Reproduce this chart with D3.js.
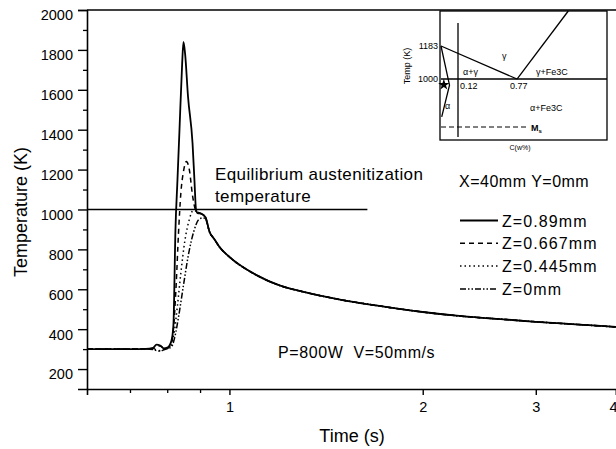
<!DOCTYPE html>
<html>
<head>
<meta charset="utf-8">
<script src="https://cdn.jsdelivr.net/npm/d3@7"></script>
<style>
  html, body { margin: 0; padding: 0; background: #fff; }
  svg { display: block; font-family: Arial, "Liberation Sans", Helvetica, sans-serif; }
  text { fill: #000; }
</style>
</head>
<body>
<svg id="chart" width="616" height="449"></svg>
<script>
// ---- Thermal cycle data: time (s), temperature (K) ----
const timeTicks = [1, 2, 3, 4];
const timeMinorTicks = [0.7, 0.8, 0.9];
const tempTicks = [200, 400, 600, 800, 1000, 1200, 1400, 1600, 1800, 2000];
const tempMinorTicks = [300, 500, 700, 900, 1100, 1300, 1500, 1700, 1900];

// Heating part of each depth (differs per depth)
const heatZ089 = [[0.6, 300], [0.7, 300], [0.74, 301], [0.76, 306], [0.77, 322], [0.78, 318], [0.79, 304], [0.80, 307],
  [0.812, 340], [0.818, 420], [0.824, 900], [0.830, 1150], [0.836, 1400], [0.844, 1730], [0.848, 1840],
  [0.853, 1780], [0.862, 1565], [0.876, 1333], [0.882, 1148], [0.887, 1000], [0.892, 982], [0.905, 978], [0.918, 960]];
const heatZ0667 = [[0.6, 300], [0.7, 300], [0.74, 300], [0.76, 302], [0.77, 312], [0.78, 316], [0.79, 305], [0.80, 303],
  [0.812, 330], [0.818, 400], [0.826, 620], [0.833, 880], [0.840, 1080], [0.848, 1190], [0.857, 1240],
  [0.866, 1200], [0.876, 1070], [0.885, 1000], [0.894, 985], [0.905, 978], [0.918, 960]];
const heatZ0445 = [[0.6, 300], [0.7, 300], [0.74, 300], [0.76, 300], [0.77, 296], [0.78, 292], [0.79, 299], [0.80, 305],
  [0.812, 320], [0.820, 380], [0.830, 520], [0.840, 680], [0.852, 840], [0.866, 950], [0.878, 995],
  [0.890, 990], [0.905, 976], [0.918, 958]];
const heatZ0 = [[0.6, 300], [0.7, 300], [0.74, 300], [0.76, 298], [0.77, 292], [0.78, 290], [0.79, 296], [0.80, 302],
  [0.812, 310], [0.822, 360], [0.834, 470], [0.848, 620], [0.864, 780], [0.880, 890], [0.896, 950],
  [0.910, 958], [0.920, 945]];
// Common cooling tail shared by all depths
const coolingTail = [[0.931, 888], [0.947, 852], [0.965, 812], [1.0, 762], [1.1, 672], [1.2, 618], [1.3, 588],
  [1.5, 546], [1.7, 518], [2.0, 486], [2.3, 465], [2.7, 448], [3.0, 437], [3.5, 423], [4.0, 411]];

const seriesNames = ["Z=0.89mm", "Z=0.667mm", "Z=0.445mm", "Z=0mm"];
const seriesHeating = [heatZ089, heatZ0667, heatZ0445, heatZ0];
const seriesDash = [null, "5,4", "1.5,3", "6,2,1.5,2,1.5,2"];
const seriesWidth = [1.8, 1.5, 1.5, 1.5];

const austenitizationTemp = 1000;
const austenitizationEnd = 1.64;

// ---- Inset Fe-C diagram data: carbon (wt%), temperature (K) ----
const insetCarbonDomain = [0, 0.12, 0.77, 1.7];
const insetTempDomain = [662, 1377];
const insetA3 = [[0, 1183], [0.77, 1000]];
const insetAcm = [[0.77, 1000], [1.3, 1377]];
const insetA1 = [[0, 1000], [1.7, 1000]];
const insetComposition = [[0.12, 1310], [0.12, 678]];
const insetAlpha = [[0, 1183], [0.06, 966], [0.005, 790]];
const insetMs = [[0, 734], [0.88, 734]];
const insetMarker = [0.02, 968];

const svg = d3.select("#chart");

// Main scales
const x = d3.scaleLog().domain([0.6, 4.0]).range([87, 616]);
const y = d3.scaleLinear().domain([100, 2000]).range([389, 10]);

// Frame (top edge)
svg.append("line").attr("x1", x(0.6)).attr("x2", 616).attr("y1", y(2000)).attr("y2", y(2000))
  .attr("stroke", "#000").attr("stroke-width", 1.6);

// Y axis
const yAxis = svg.append("g").attr("transform", `translate(${x(0.6)},0)`)
  .call(d3.axisLeft(y).tickValues(tempTicks).tickSize(9).tickPadding(5).tickFormat(d3.format("d")));
yAxis.select(".domain").attr("stroke-width", 1.6);
yAxis.selectAll(".tick line").attr("stroke-width", 1.4);
yAxis.selectAll("text").attr("font-size", 14.5).attr("dy", "0.68em").attr("font-family", "Arial, Liberation Sans, sans-serif");
const yMinor = svg.append("g").attr("transform", `translate(${x(0.6)},0)`)
  .call(d3.axisLeft(y).tickValues(tempMinorTicks).tickSize(4).tickFormat(""));
yMinor.select(".domain").remove();
yMinor.selectAll(".tick line").attr("stroke-width", 1.3);

// X axis
const xAxis = svg.append("g").attr("transform", `translate(0,${y(100)})`)
  .call(d3.axisBottom(x).tickValues(timeTicks).tickSize(6).tickPadding(7).tickFormat(d3.format("d")));
xAxis.select(".domain").attr("stroke-width", 1.6);
xAxis.selectAll(".tick line").attr("stroke-width", 1.4);
xAxis.selectAll("text").attr("font-size", 14.5).attr("font-family", "Arial, Liberation Sans, sans-serif");
// keep the last label inside the right edge
xAxis.selectAll(".tick text").filter(d => d === 4).attr("text-anchor", "end").attr("dx", 1);
const xMinor = svg.append("g").attr("transform", `translate(0,${y(100)})`)
  .call(d3.axisBottom(x).tickValues(timeMinorTicks).tickSize(4).tickFormat(""));
xMinor.select(".domain").remove();
xMinor.selectAll(".tick line").attr("stroke-width", 1.3);

// Axis titles
svg.append("text").attr("x", 352).attr("y", 442).attr("text-anchor", "middle")
  .attr("font-size", 18).text("Time (s)");
svg.append("text").attr("transform", "translate(27,212) rotate(-90)").attr("text-anchor", "middle")
  .attr("font-size", 18).text("Temperature (K)");

// Equilibrium austenitization temperature line
svg.append("line").attr("x1", x(0.6)).attr("x2", x(austenitizationEnd))
  .attr("y1", y(austenitizationTemp)).attr("y2", y(austenitizationTemp))
  .attr("stroke", "#000").attr("stroke-width", 1.6);
svg.append("text").attr("x", 215).attr("y", 180).attr("font-size", 17).attr("letter-spacing", 0.4)
  .text("Equilibrium austenitization");
svg.append("text").attr("x", 215).attr("y", 202).attr("font-size", 17).attr("letter-spacing", 0.4)
  .text("temperature");

// Curves
const line = d3.line().x(d => x(d[0])).y(d => y(d[1])).curve(d3.curveMonotoneX);
seriesHeating.forEach((heat, i) => {
  svg.append("path").datum(heat.concat(coolingTail))
    .attr("d", line).attr("fill", "none").attr("stroke", "#000")
    .attr("stroke-width", seriesWidth[i])
    .attr("stroke-dasharray", seriesDash[i])
    .attr("stroke-linejoin", "round");
});

// Legend
const legend = svg.append("g").attr("font-size", 16).attr("letter-spacing", 1.1);
legend.append("text").attr("x", 459).attr("y", 186.5).attr("letter-spacing", 0.5).text("X=40mm Y=0mm");
seriesNames.forEach((name, i) => {
  const by = 226.5 + i * 22.8;
  legend.append("line").attr("x1", 460).attr("x2", 498).attr("y1", by - 6).attr("y2", by - 6)
    .attr("stroke", "#000").attr("stroke-width", seriesWidth[i]).attr("stroke-dasharray", seriesDash[i]);
  legend.append("text").attr("x", 502).attr("y", by).text(name);
});

// Process parameters
svg.append("text").attr("x", 278).attr("y", 358).attr("font-size", 16).attr("letter-spacing", 0.6)
  .attr("xml:space", "preserve").style("white-space", "pre").text("P=800W  V=50mm/s");

// ---- Inset Fe-C phase diagram ----
const ix = d3.scaleLinear().domain(insetCarbonDomain).range([441, 458, 517, 607]);
const iy = d3.scaleLinear().domain(insetTempDomain).range([140, 11]);
const inset = svg.append("g");
inset.append("rect").attr("x", 440).attr("y", iy(1377)).attr("width", ix(1.7) - 440)
  .attr("height", iy(662) - iy(1377)).attr("fill", "#fff").attr("stroke", "#000").attr("stroke-width", 1.3);
const iline = d3.line().x(d => ix(d[0])).y(d => iy(d[1]));
[insetA3, insetAcm, insetA1, insetComposition, insetAlpha].forEach(seg => {
  inset.append("path").datum(seg).attr("d", iline).attr("fill", "none")
    .attr("stroke", "#000").attr("stroke-width", 1.3);
});
inset.append("path").datum(insetMs).attr("d", iline).attr("fill", "none")
  .attr("stroke", "#000").attr("stroke-width", 1).attr("stroke-dasharray", "5,3");
inset.append("path").attr("d", d3.symbol(d3.symbolStar, 40)())
  .attr("transform", `translate(${ix(insetMarker[0])},${iy(insetMarker[1])})`).attr("fill", "#000");

const itext = (tx, ty, s, anchor) => inset.append("text").attr("x", tx).attr("y", ty)
  .attr("font-size", 9).attr("text-anchor", anchor || "start").text(s);
itext(438, iy(1183) + 3, "1183", "end");
itext(438, iy(1000) + 3, "1000", "end");
itext(463, 75, "α+γ");
itext(502, 59, "γ");
itext(536, 75, "γ+Fe3C");
itext(460, 89, "0.12");
itext(510, 89, "0.77");
itext(445, 109, "α");
itext(530, 111, "α+Fe3C");
const ms = itext(531, iy(734) + 3.5, "M");
ms.attr("font-weight", "bold");
ms.append("tspan").attr("font-size", 6).attr("dy", 2).text("s");
itext(520, 150, "C(w%)", "middle").attr("font-size", 7);
inset.append("text").attr("transform", "translate(410,66) rotate(-90)").attr("text-anchor", "middle")
  .attr("font-size", 9).text("Temp (K)");
</script>
</body>
</html>
